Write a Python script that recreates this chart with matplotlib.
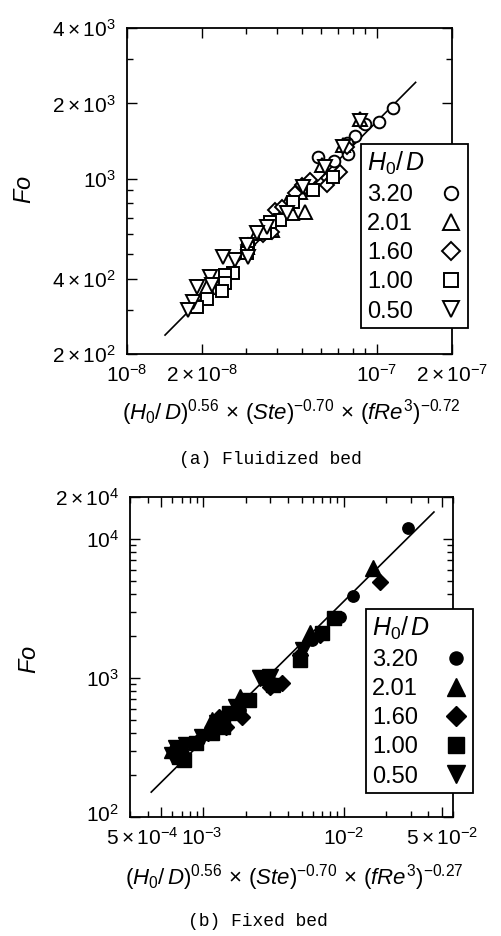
import matplotlib
matplotlib.use("Agg")
import matplotlib.pyplot as plt
from matplotlib.ticker import FixedLocator, LogLocator, NullFormatter
from matplotlib.transforms import ScaledTranslation

plt.rcParams['font.family'] = ['Liberation Sans', 'DejaVu Sans']
plt.rcParams['mathtext.fontset'] = 'custom'
plt.rcParams['mathtext.rm'] = 'Liberation Sans'
plt.rcParams['mathtext.it'] = 'Liberation Sans:italic'
plt.rcParams['mathtext.bf'] = 'Liberation Sans:bold'

# ---- data: (a) fluidized bed ----
labels = ['3.20', '2.01', '1.60', '1.00', '0.50']

a_x_320 = [1.16e-7, 1.02e-7, 8.95e-8, 8.17e-8, 7.59e-8, 7.66e-8, 6.73e-8, 5.81e-8]
a_y_320 = [1910, 1679, 1648, 1489, 1396, 1262, 1183, 1227]
a_x_201 = [8.55e-8, 7.31e-8, 6.03e-8, 5.15e-8, 4.57e-8, 3.80e-8, 3.31e-8, 3.02e-8, 2.09e-8, 4.92e-8, 4.37e-8]
a_y_201 = [1726, 1371, 1140, 740, 733, 627, 610, 536, 371, 889, 803]
a_x_160 = [7.11e-8, 6.37e-8, 6.31e-8, 5.40e-8, 4.70e-8, 5.01e-8, 3.91e-8, 4.17e-8, 3.80e-8, 3.50e-8, 3.05e-8, 7.59e-8]
a_y_160 = [1069, 1012, 948, 993, 881, 948, 754, 775, 615, 598, 546, 1334]
a_x_100 = [6.67e-8, 5.55e-8, 4.61e-8, 4.09e-8, 3.73e-8, 3.56e-8, 3.05e-8, 3.02e-8, 2.65e-8, 2.47e-8, 2.47e-8, 2.40e-8, 2.09e-8, 1.91e-8]
a_y_100 = [1021, 906, 811, 687, 675, 610, 531, 507, 422, 414, 385, 357, 332, 308]
a_x_050 = [8.6e-8, 7.31e-8, 6.19e-8, 5.06e-8, 4.37e-8, 3.63e-8, 3.31e-8, 3.02e-8, 3.05e-8, 2.70e-8, 2.42e-8, 2.15e-8, 2.19e-8, 1.91e-8, 1.84e-8, 1.75e-8]
a_y_050 = [1700, 1346, 1119, 931, 733, 644, 610, 546, 489, 475, 489, 406, 378, 371, 323, 300]
fit_a_x = [1.42e-8, 1.43e-7]
fit_a_y = [238, 2427]

# ---- data: (b) fixed bed ----
b_x_320 = [2.86e-2, 1.16e-2, 9.35e-3, 4.85e-3, 5.9e-3, 3.11e-3, 1.81e-3, 9.36e-4]
b_y_320 = [12000, 3890, 2748, 1347, 1877, 920, 589, 358]
b_x_201 = [1.61e-2, 5.71e-3, 2.82e-3, 1.81e-3, 1.16e-3, 7.08e-4, 6.01e-4]
b_y_201 = [6185, 2109, 1017, 730, 499, 319, 303]
b_x_160 = [1.81e-2, 6.74e-3, 4.85e-3, 3.61e-3, 2.96e-3, 1.87e-3, 1.46e-3, 1.30e-3, 1.07e-3]
b_y_160 = [4911, 2038, 1464, 920, 861, 524, 444, 524, 402]
b_x_100 = [8.49e-3, 6.97e-3, 4.85e-3, 3.11e-3, 2.13e-3, 1.53e-3, 1.37e-3, 1.16e-3, 6.74e-4, 7.31e-4, 8.91e-4]
b_y_100 = [2703, 2109, 1347, 891, 695, 560, 444, 402, 270, 257, 341]
b_x_050 = [2.96e-3, 2.51e-3, 1.72e-3, 1.24e-3, 9.84e-4, 7.56e-4, 6.41e-4, 6.01e-4, 5.09e-3]
b_y_050 = [1017, 1000, 618, 474, 377, 330, 314, 279, 1589]
fit_b_x = [4.25e-4, 4.39e-2]
fit_b_y = [151, 15600]

markers = ['o', '^', 'D', 's', 'v']
sizes_a = [8.4, 9.4, 7.6, 8.2, 9.4]
sizes_b = [8.2, 11, 8.6, 9.6, 11]

W, H = 501, 936
fig = plt.figure(figsize=(W / 100, H / 100), dpi=100)


def style_axes(ax, xlim, ylim, xt, xtl, yt, ytl):
    ax.set_xscale('log')
    ax.set_yscale('log')
    ax.set_xlim(*xlim)
    ax.set_ylim(*ylim)
    ax.xaxis.set_major_locator(FixedLocator(xt))
    ax.set_xticklabels(xtl)
    ax.yaxis.set_major_locator(FixedLocator(yt))
    ax.set_yticklabels(ytl)
    ax.xaxis.set_minor_locator(LogLocator(base=10, subs=range(1, 10), numticks=20))
    ax.yaxis.set_minor_locator(LogLocator(base=10, subs=range(1, 10), numticks=20))
    ax.xaxis.set_minor_formatter(NullFormatter())
    ax.yaxis.set_minor_formatter(NullFormatter())
    ax.tick_params(which='both', direction='in', top=True, right=True, width=1.0, labelsize=15)
    ax.tick_params(which='major', length=7)
    ax.tick_params(axis='y', which='major', pad=8)
    ax.tick_params(axis='x', which='major', pad=7)
    ax.tick_params(which='minor', length=4)
    for s in ax.spines.values():
        s.set_linewidth(1.3)


def add_legend(ax, x0, y0):
    leg = ax.legend(title=r'$H_0/\,D$', loc='upper left', bbox_to_anchor=(x0 / W, 1 - y0 / H),
                    bbox_transform=fig.transFigure, borderaxespad=0, markerfirst=False,
                    fontsize=17, title_fontsize=18, alignment='left', fancybox=False,
                    framealpha=1, edgecolor='black', labelspacing=0.3, handletextpad=1.1,
                    handlelength=1.0, borderpad=0.25, markerscale=1.15)
    leg.get_frame().set_linewidth(1.3)
    return leg


xlabel_tpl = r'$(H_0/\,D)^{0.56}\,\times\,(Ste)^{-0.70}\,\times\,(fRe^3)^{%s}$'

# ---- panel (a) ----
ax1 = fig.add_axes([127 / W, 1 - 354 / H, 325 / W, 326 / H])
ax1.plot(fit_a_x, fit_a_y, color='black', lw=1.2, zorder=1)
a_xs = [a_x_320, a_x_201, a_x_160, a_x_100, a_x_050]
a_ys = [a_y_320, a_y_201, a_y_160, a_y_100, a_y_050]
for xs, ys, m, ms, lab in zip(a_xs, a_ys, markers, sizes_a, labels):
    ax1.plot(xs, ys, linestyle='none', marker=m, ms=ms, mfc='white', mec='black', mew=1.4, label=lab, zorder=2)
style_axes(ax1, (1e-8, 2e-7), (2e2, 4e3),
           [1e-8, 2e-8, 1e-7, 2e-7],
           [r'$10^{-8}$', r'$2\times10^{-8}$', r'$10^{-7}$', r'$2\times10^{-7}$'],
           [2e2, 4e2, 1e3, 2e3, 4e3],
           [r'$2\times10^{2}$', r'$4\times10^{2}$', r'$10^{3}$', r'$2\times10^{3}$', r'$4\times10^{3}$'])
add_legend(ax1, 361, 144)
fig.text(25 / W, 1 - 190 / H, r'$Fo$', rotation=90, ha='center', va='center', fontsize=17)
fig.text(291 / W, 1 - 413 / H, xlabel_tpl % '-0.72', ha='center', va='center', fontsize=16)
fig.text(270 / W, 1 - 460 / H, '(a) Fluidized bed', ha='center', va='center',
         fontsize=13, family='Liberation Mono')

# ---- panel (b) ----
ax2 = fig.add_axes([130 / W, 1 - 817 / H, 323 / W, 320 / H])
ax2.plot(fit_b_x, fit_b_y, color='black', lw=1.2, zorder=1)
b_xs = [b_x_320, b_x_201, b_x_160, b_x_100, b_x_050]
b_ys = [b_y_320, b_y_201, b_y_160, b_y_100, b_y_050]
for xs, ys, m, ms, lab in zip(b_xs, b_ys, markers, sizes_b, labels):
    ax2.plot(xs, ys, linestyle='none', marker=m, ms=ms, mfc='black', mec='black', label=lab, zorder=2)
style_axes(ax2, (3e-4, 6e-2), (1e2, 2e4),
           [5e-4, 1e-3, 1e-2, 5e-2],
           [r'$5\times10^{-4}$', r'$10^{-3}$', r'$10^{-2}$', r'$5\times10^{-2}$'],
           [1e2, 1e3, 1e4, 2e4],
           [r'$10^{2}$', r'$10^{3}$', r'$10^{4}$', r'$2\times10^{4}$'])
# keep "5x10^-4" clear of "10^-3": right-align it just short of the 10^-3 label
lab0 = ax2.get_xticklabels()[0]
lab0.set_horizontalalignment('right')
lab0.set_transform(lab0.get_transform() + ScaledTranslation(17 / 100, 0, fig.dpi_scale_trans))
lab1 = ax2.get_xticklabels()[1]
lab1.set_transform(lab1.get_transform() + ScaledTranslation(-2 / 100, 0, fig.dpi_scale_trans))
# lift the bottom y label a little, as in the reference
ylab0 = ax2.get_yticklabels()[0]
ylab0.set_transform(ylab0.get_transform() + ScaledTranslation(0, 4 / 100, fig.dpi_scale_trans))
add_legend(ax2, 366, 609)
fig.text(30 / W, 1 - 660 / H, r'$Fo$', rotation=90, ha='center', va='center', fontsize=17)
fig.text(294 / W, 1 - 878 / H, xlabel_tpl % '-0.27', ha='center', va='center', fontsize=16)
fig.text(258 / W, 1 - 922 / H, '(b) Fixed bed', ha='center', va='center',
         fontsize=13, family='Liberation Mono')

fig.savefig('out.png', dpi=100)
